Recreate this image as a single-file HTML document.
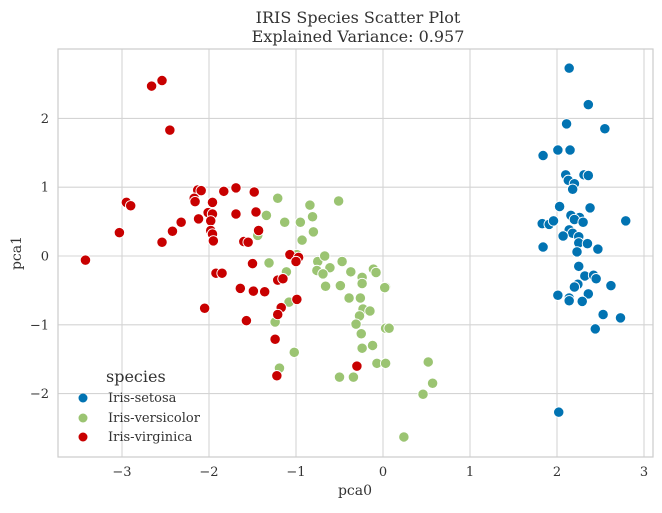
<!DOCTYPE html>
<html><head><meta charset="utf-8"><style>
body{margin:0;background:#fff}
svg text{font-family:"DejaVu Serif","Liberation Serif",serif;fill:#333}
</style></head><body>
<svg id="chart" width="662" height="508">
<text x="358" y="23" text-anchor="middle" font-size="16">IRIS Species Scatter Plot</text>
<text x="358" y="42" text-anchor="middle" font-size="16">Explained Variance: 0.957</text>
<g id="grid"></g>
<g id="ticks"></g>
<rect x="58" y="49" width="595" height="408" fill="none" stroke="#cccccc" stroke-width="1.2"/>
<g id="points"></g>
<text x="355" y="495" text-anchor="middle" font-size="14">pca0</text>
<text transform="translate(21,253) rotate(-90)" text-anchor="middle" font-size="14">pca1</text>
<g>
<text x="106" y="382" font-size="16">species</text>
<circle cx="83" cy="398" r="4.5" fill="#0173b2"/>
<text x="108" y="402" font-size="13">Iris-setosa</text>
<circle cx="83" cy="418" r="4.5" fill="#9bc472"/>
<text x="108" y="422" font-size="13">Iris-versicolor</text>
<circle cx="83" cy="437" r="4.5" fill="#c80000"/>
<text x="108" y="441" font-size="13">Iris-virginica</text>
</g>
</svg>
<script>
const xTicks=[-3,-2,-1,0,1,2,3];
const yTicks=[2,1,0,-1,-2];
const setosaX=[2.14,2.36,2.11,2.55,2.01,2.15,1.84,2.10,2.13,2.31,2.36,2.20,2.18,2.03,2.38,2.16,2.26,2.20,2.30,1.83,1.91,1.96,2.79,2.14,2.18,2.07,2.25,2.25,2.35,1.84,2.47,2.23,2.25,2.32,2.42,2.45,2.62,2.24,2.20,2.01,2.36,2.14,2.14,2.29,2.53,2.73,2.44,2.02];
const setosaY=[2.73,2.20,1.92,1.85,1.54,1.54,1.46,1.18,1.10,1.18,1.17,1.05,0.97,0.72,0.70,0.59,0.56,0.53,0.49,0.47,0.46,0.51,0.51,0.38,0.33,0.29,0.28,0.19,0.18,0.13,0.10,0.06,-0.15,-0.29,-0.28,-0.33,-0.43,-0.41,-0.45,-0.57,-0.55,-0.61,-0.65,-0.66,-0.85,-0.90,-1.06,-2.27];
const versiX=[-1.21,-0.51,-0.84,-1.34,-0.81,-1.13,-0.95,-0.80,-1.44,-0.93,-0.99,-1.31,-1.11,-0.75,-0.67,-0.61,-0.76,-0.69,-0.47,-0.37,-0.11,-0.08,-0.24,-0.24,0.03,-0.66,-0.49,-0.39,-0.26,-1.08,-0.23,-0.15,-0.27,-0.31,-1.24,0.03,-0.25,-0.24,-0.12,-1.02,-0.07,0.03,-1.19,-0.50,-0.34,0.07,0.52,0.57,0.46,0.24,0.02];
const versiY=[0.84,0.80,0.74,0.59,0.57,0.49,0.49,0.35,0.30,0.23,0.02,-0.10,-0.23,-0.08,0.00,-0.17,-0.21,-0.26,-0.08,-0.23,-0.19,-0.24,-0.31,-0.40,-0.45,-0.44,-0.43,-0.61,-0.61,-0.67,-0.77,-0.80,-0.87,-0.99,-0.96,-1.05,-1.13,-1.34,-1.30,-1.40,-1.56,-1.56,-1.63,-1.76,-1.76,-1.05,-1.54,-1.85,-2.01,-2.63,-0.46];
const virgX=[-2.66,-2.54,-2.45,-2.13,-2.09,-1.83,-1.69,-1.48,-2.95,-2.90,-2.17,-2.16,-1.96,-2.01,-1.96,-1.69,-1.46,-2.12,-1.98,-2.32,-3.03,-2.42,-1.98,-1.96,-1.43,-2.54,-1.95,-1.60,-1.55,-3.42,-1.50,-1.07,-0.97,-1.00,-1.92,-1.85,-1.21,-1.15,-1.64,-1.49,-1.36,-0.99,-2.05,-1.17,-1.21,-1.57,-1.24,-0.30,-1.22];
const virgY=[2.47,2.55,1.83,0.96,0.95,0.94,0.99,0.93,0.78,0.73,0.84,0.79,0.78,0.63,0.61,0.61,0.64,0.54,0.51,0.49,0.34,0.36,0.37,0.32,0.37,0.20,0.22,0.21,0.20,-0.06,-0.11,0.02,-0.02,-0.08,-0.25,-0.25,-0.35,-0.33,-0.47,-0.51,-0.52,-0.63,-0.76,-0.75,-0.85,-0.94,-1.21,-1.60,-1.74];
const NS="http://www.w3.org/2000/svg";
function sx(v){return 383+v*87;}
function sy(v){return 256-v*68.8;}
const grid=document.getElementById('grid'),ticks=document.getElementById('ticks'),pts=document.getElementById('points');
xTicks.forEach(t=>{
 const l=document.createElementNS(NS,'line');
 l.setAttribute('x1',sx(t));l.setAttribute('x2',sx(t));l.setAttribute('y1',49);l.setAttribute('y2',457);
 l.setAttribute('stroke','#d4d4d4');l.setAttribute('stroke-width','1.1');
 
 
 grid.appendChild(l);
 const tx=document.createElementNS(NS,'text');
 tx.setAttribute('x',sx(t));tx.setAttribute('y',476);tx.setAttribute('text-anchor','middle');tx.setAttribute('font-size','13');
 tx.textContent=t<0?'\u2212'+Math.abs(t):String(t);
 
 
 ticks.appendChild(tx);
});
yTicks.forEach(t=>{
 const l=document.createElementNS(NS,'line');
 l.setAttribute('x1',58);l.setAttribute('x2',653);l.setAttribute('y1',sy(t));l.setAttribute('y2',sy(t));
 l.setAttribute('stroke','#d4d4d4');l.setAttribute('stroke-width','1.1');
 
 
 grid.appendChild(l);
 const tx=document.createElementNS(NS,'text');
 tx.setAttribute('x',49);tx.setAttribute('y',sy(t)+4.5);tx.setAttribute('text-anchor','end');tx.setAttribute('font-size','13');
 tx.textContent=t<0?'\u2212'+Math.abs(t):String(t);
 
 
 ticks.appendChild(tx);
});
function series(xs,ys,color,name){
 xs.forEach((x,i)=>{
  const c=document.createElementNS(NS,'circle');
  c.setAttribute('cx',sx(x));c.setAttribute('cy',sy(ys[i]));c.setAttribute('r','5.2');
  c.setAttribute('fill',color);c.setAttribute('stroke','#fff');c.setAttribute('stroke-width','0.9');
  
  
  pts.appendChild(c);
 });
}
series(setosaX,setosaY,'#0173b2','point-setosa');
series(versiX,versiY,'#9bc472','point-versicolor');
series(virgX,virgY,'#c80000','point-virginica');
</script>
</body></html>
